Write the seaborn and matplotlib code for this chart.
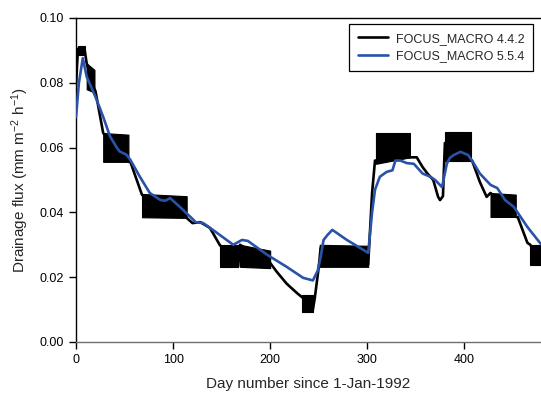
import matplotlib
matplotlib.use("Agg")
import matplotlib.pyplot as plt
import matplotlib.ticker as mticker
import numpy as np
import pandas as pd
import seaborn as sns

# ---------------- data ----------------
series_names = ["FOCUS_MACRO 4.4.2", "FOCUS_MACRO 5.5.4"]
series_colors = ["#000000", "#2a52a8"]

# FOCUS_MACRO 4.4.2 : main path (day, flux)
v442_days = [0, 2, 9, 11, 19, 20, 28, 54, 56, 68, 114, 120, 128, 138, 148,
             167, 169, 200, 207, 217, 228, 233, 244, 246, 250, 252, 301,
             305, 308, 344, 351, 357, 362, 368, 373, 375, 378, 380, 407,
             408, 416, 423, 427, 453, 455, 465, 468, 479]
v442_flux = [0.079, 0.0905, 0.090, 0.086, 0.078, 0.0775, 0.0645, 0.0556,
             0.0556, 0.0454, 0.0383, 0.0367, 0.0370, 0.0352, 0.0300,
             0.0232, 0.0300, 0.0244, 0.0216, 0.0180, 0.0150, 0.0138,
             0.0100, 0.0136, 0.0230, 0.0290, 0.0240, 0.0460, 0.0560,
             0.0570, 0.0570, 0.0540, 0.0520, 0.0500, 0.0448, 0.0438,
             0.0450, 0.0614, 0.0560, 0.0560, 0.0494, 0.0448, 0.0460,
             0.0386, 0.0386, 0.0306, 0.0300, 0.0240]

# FOCUS_MACRO 4.4.2 : periods of rapid (diurnal) oscillation, drawn as envelopes
band_start = [2, 11, 28, 68, 148, 169, 233, 251, 309, 380, 427, 468]
band_end = [9, 19, 54, 114, 167, 200, 244, 301, 344, 407, 453, 480]
band_low0 = [0.0885, 0.078, 0.0556, 0.0385, 0.0232, 0.0232, 0.0093, 0.0232, 0.0550, 0.0560, 0.0386, 0.0238]
band_low1 = [0.0885, 0.077, 0.0556, 0.0383, 0.0232, 0.0228, 0.0093, 0.0232, 0.0570, 0.0560, 0.0386, 0.0238]
band_high0 = [0.0915, 0.086, 0.0645, 0.0457, 0.0300, 0.0300, 0.0145, 0.0300, 0.0645, 0.0648, 0.0460, 0.0300]
band_high1 = [0.0915, 0.084, 0.0640, 0.0450, 0.0300, 0.0282, 0.0145, 0.0297, 0.0645, 0.0648, 0.0455, 0.0300]

# FOCUS_MACRO 5.5.4
v554_days = [0, 3, 7, 11, 20, 28, 35, 42, 45, 52, 56, 66, 76, 87, 92, 97,
             107, 121, 123, 131, 141, 162, 171, 177, 197, 217, 234, 244,
             249, 252, 255, 259, 264, 267, 279, 300, 301, 305, 308, 313,
             320, 326, 329, 334, 341, 348, 357, 365, 370, 377, 382, 385,
             389, 396, 404, 409, 416, 427, 434, 442, 451, 465, 479]
v554_flux = [0.0694, 0.0800, 0.0876, 0.0819, 0.0757, 0.0695, 0.0635,
             0.0600, 0.0588, 0.0578, 0.0562, 0.0509, 0.0460, 0.0438,
             0.0436, 0.0444, 0.0417, 0.0377, 0.0370, 0.0367, 0.0346,
             0.0300, 0.0315, 0.0312, 0.0269, 0.0232, 0.0198, 0.0190,
             0.0220, 0.0262, 0.0315, 0.0330, 0.0346, 0.0340, 0.0315,
             0.0277, 0.0275, 0.0400, 0.0470, 0.0510, 0.0525, 0.0530,
             0.0560, 0.0560, 0.0552, 0.0550, 0.0520, 0.0510, 0.0500,
             0.0478, 0.0550, 0.0568, 0.0577, 0.0587, 0.0577, 0.0555,
             0.0520, 0.0485, 0.0475, 0.0438, 0.0417, 0.0355, 0.0302]

x_ticks = [0, 100, 200, 300, 400]
y_ticks = [0.00, 0.02, 0.04, 0.06, 0.08, 0.10]
x_label = "Day number since 1-Jan-1992"
y_label = "Drainage flux (mm m$^{-2}$ h$^{-1}$)"

# ---------------- plot ----------------
sns.set_style("ticks")
plt.rcParams["font.family"] = ["Liberation Sans", "DejaVu Sans"]
plt.rcParams["mathtext.default"] = "regular"

df = pd.concat([
    pd.DataFrame({"day": v442_days, "flux": v442_flux, "model": series_names[0]}),
    pd.DataFrame({"day": v554_days, "flux": v554_flux, "model": series_names[1]}),
], ignore_index=True)

fig = plt.figure(figsize=(5.41, 3.97), dpi=100)
ax = fig.add_axes([76 / 541, 1 - 342 / 397, 1 - 76 / 541, (342 - 18) / 397])

for s, e, l0, l1, h0, h1 in zip(band_start, band_end, band_low0, band_low1,
                                band_high0, band_high1):
    ax.fill_between([s, e], [l0, l1], [h0, h1], color=series_colors[0],
                    linewidth=0.8, edgecolor=series_colors[0], zorder=2)

sns.lineplot(data=df, x="day", y="flux", hue="model",
             palette=dict(zip(series_names, series_colors)),
             estimator=None, sort=False, linewidth=1.9, ax=ax, zorder=3)
for ln in ax.lines:
    ln.set_solid_joinstyle("round")

ax.set_xlim(0, 479)
ax.set_ylim(0, 0.10)
ax.set_xticks(x_ticks)
ax.set_yticks(y_ticks)
ax.yaxis.set_major_formatter(mticker.FormatStrFormatter("%.2f"))
ax.tick_params(direction="out", length=5, width=1, labelsize=9,
               colors="black", pad=3.5)
ax.set_xlabel(x_label, fontsize=11, labelpad=8)
ax.set_ylabel(y_label, fontsize=11, labelpad=6)

ax.spines["right"].set_visible(False)
for side in ["top", "left"]:
    ax.spines[side].set_color("black")
    ax.spines[side].set_linewidth(1)
ax.spines["bottom"].set_color("#707070")
ax.spines["bottom"].set_linewidth(1)

leg = ax.legend(loc="upper right",
                bbox_to_anchor=((533 - 76) / 465, (342 - 24) / 324),
                borderaxespad=0, fontsize=9, frameon=True, fancybox=False,
                edgecolor="black", framealpha=1, handlelength=2.4,
                handletextpad=0.6, borderpad=0.7, labelspacing=0.45)
leg.get_frame().set_linewidth(0.9)
for h in leg.get_lines():
    h.set_linewidth(1.9)

fig.savefig("out.png", dpi=100)
